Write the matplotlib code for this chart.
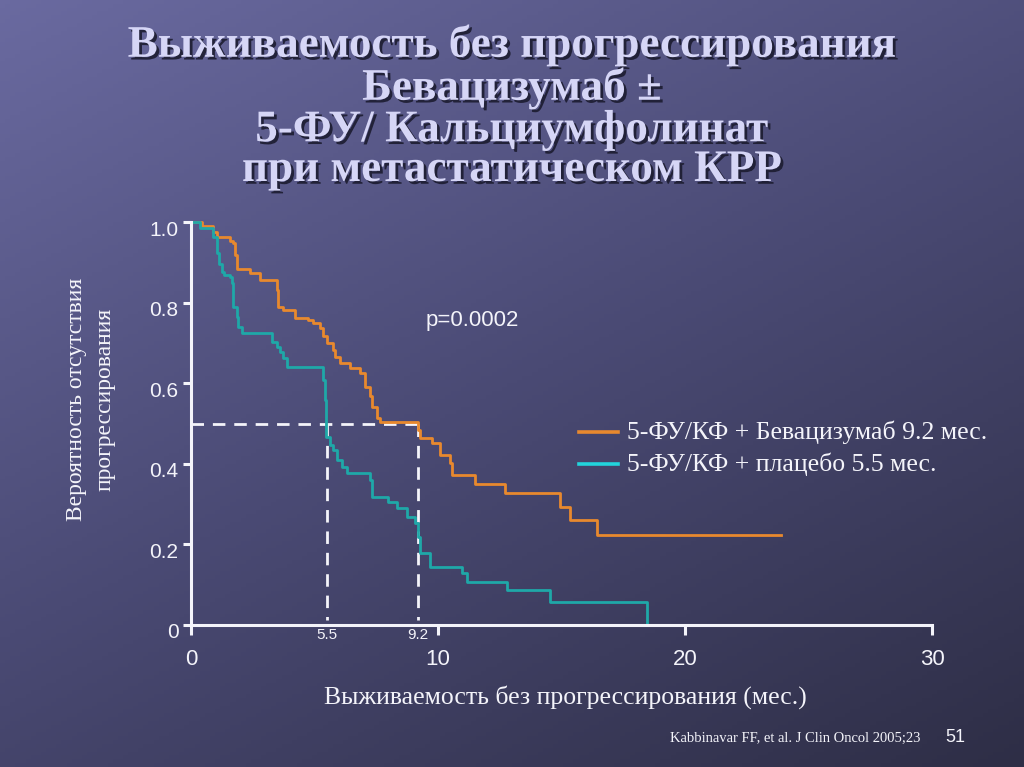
import numpy as np
import matplotlib
matplotlib.use("Agg")
import matplotlib.pyplot as plt
from matplotlib import patheffects as pe
from matplotlib import transforms as mtransforms
from matplotlib.colors import LinearSegmentedColormap

# ---------------- data ----------------
beva_t = [0, 0.43, 0.90, 1.04, 1.58, 1.71, 1.78, 1.85, 2.39, 2.79, 3.47, 3.53, 3.74,
          4.21, 4.75, 4.95, 5.22, 5.36, 5.49, 5.76, 5.83, 6.03, 6.44, 6.84, 7.04,
          7.25, 7.32, 7.52, 7.65, 9.20, 9.27, 9.74, 10.08, 10.49, 10.55, 11.50,
          12.71, 14.94, 15.34, 16.43, 23.9]
beva_s = [1.0, 0.990, 0.976, 0.964, 0.954, 0.947, 0.918, 0.883, 0.873, 0.856, 0.831,
          0.790, 0.782, 0.761, 0.757, 0.749, 0.736, 0.716, 0.699, 0.682, 0.666, 0.649,
          0.637, 0.625, 0.591, 0.567, 0.542, 0.513, 0.504, 0.484, 0.463, 0.451, 0.422,
          0.401, 0.372, 0.350, 0.327, 0.294, 0.261, 0.223, 0.223]

plac_t = [0, 0.36, 0.90, 1.04, 1.15, 1.24, 1.35, 1.58, 1.65, 1.71, 1.85, 1.91, 2.05,
          3.27, 3.47, 3.60, 3.74, 3.87, 5.36, 5.43, 5.47, 5.63, 5.76, 5.90, 6.10,
          6.30, 7.25, 7.32, 7.99, 8.33, 8.73, 9.07, 9.20, 9.27, 9.68, 10.96, 11.16,
          12.78, 14.53, 18.45, 18.45]
plac_s = [1.0, 0.984, 0.964, 0.922, 0.897, 0.877, 0.868, 0.864, 0.848, 0.790, 0.765,
          0.740, 0.724, 0.703, 0.690, 0.678, 0.662, 0.641, 0.608, 0.558, 0.467, 0.447,
          0.434, 0.409, 0.393, 0.376, 0.360, 0.318, 0.306, 0.290, 0.269, 0.253, 0.219,
          0.178, 0.145, 0.128, 0.107, 0.087, 0.058, 0.058, 0.0]

median_beva = 9.2
median_plac = 5.5
x_ticks = [0, 10, 20, 30]
y_ticks = [0, 0.2, 0.4, 0.6, 0.8, 1.0]
y_ticklabels = ["0", "0.2", "0.4", "0.6", "0.8", "1.0"]

title_lines = ["Выживаемость без прогрессирования",
               "Бевацизумаб ±",
               "5-ФУ/ Кальциумфолинат",
               "при метастатическом КРР"]
label_beva = "5-ФУ/КФ + Бевацизумаб 9.2 мес."
label_plac = "5-ФУ/КФ + плацебо 5.5 мес."
p_text = "p=0.0002"
xlabel = "Выживаемость без прогрессирования (мес.)"
ylabel = "Вероятность отсутствия\nпрогрессирования"
citation = "Kabbinavar FF, et al. J Clin Oncol 2005;23"
slide_no = "51"

# ---------------- style ----------------
ORANGE = "#e8892e"
TEAL = "#1fa8a8"
TEAL_LEG = "#22d4dc"
WHITE = "#f4f4fa"
SERIF = ["Liberation Serif", "DejaVu Serif"]
SANS = ["Liberation Sans", "DejaVu Sans"]

W, H = 1024, 767
fig = plt.figure(figsize=(W / 100, H / 100), dpi=100)

# background gradient
bg = fig.add_axes([0, 0, 1, 1], zorder=-10)
yy, xx = np.mgrid[0:1:200j, 0:1:200j]
grad = 0.6 * yy + 0.4 * xx
cmap = LinearSegmentedColormap.from_list("bg", ["#6a6aa0", "#4a4a74", "#2e2e46"])
bg.imshow(grad, cmap=cmap, aspect="auto", extent=[0, 1, 0, 1], origin="upper")
bg.set_axis_off()

# ---------------- axes ----------------
left = 191 / W
right = 932 / W
bottom = 1 - 625 / H
top = 1 - 222 / H
ax = fig.add_axes([left, bottom, right - left, top - bottom])
ax.set_facecolor("none")
ax.set_xlim(0, 30)
ax.set_ylim(0, 1)
for s in ["top", "right"]:
    ax.spines[s].set_visible(False)
for s in ["left", "bottom"]:
    ax.spines[s].set_color(WHITE)
    ax.spines[s].set_linewidth(2.2)
    ax.spines[s].set_zorder(5)

ax.set_xticks(x_ticks)
ax.set_yticks(y_ticks)
ax.set_yticklabels(y_ticklabels)
ax.tick_params(axis="both", colors=WHITE, width=2.2, direction="out")
ax.tick_params(axis="x", length=7.5, pad=10, labelsize=16)
ax.tick_params(axis="y", length=6, pad=3, labelsize=15)
ydown = mtransforms.ScaledTranslation(0, -0.06, fig.dpi_scale_trans)
for lab in ax.get_xticklabels() + ax.get_yticklabels():
    lab.set_family(SANS)
    lab.set_color(WHITE)
for lab in ax.get_yticklabels():
    lab.set_transform(lab.get_transform() + ydown)

# curves
ax.step(beva_t, beva_s, where="post", color=ORANGE, lw=2.0, zorder=3, clip_on=False)
ax.step(plac_t, plac_s, where="post", color=TEAL, lw=2.0, zorder=3, clip_on=False)

# median dashed lines
dash = dict(color=WHITE, lw=2.0, ls=(0, (4.5, 3.2)), zorder=2)
ax.plot([0, median_beva], [0.5, 0.5], **dash)
ax.plot([median_plac, median_plac], [0.5, 0.012], **dash)
ax.plot([median_beva, median_beva], [0.5, 0.012], **dash)
for m in (median_plac, median_beva):
    ax.text(m, -0.008, f"{m}", transform=ax.transData, ha="center", va="top",
            fontsize=11, color=WHITE, family=SANS)

# p value
ax.text(9.5, 0.755, p_text, fontsize=16, color=WHITE, family=SANS, va="center")

# legend
leg_x0, leg_x1, leg_tx = 15.7, 17.3, 17.65
ax.plot([leg_x0, leg_x1], [0.479, 0.479], color=ORANGE, lw=2.6)
ax.plot([leg_x0, leg_x1], [0.40, 0.40], color=TEAL_LEG, lw=2.6)
ax.text(leg_tx, 0.479, label_beva, fontsize=18.5, color=WHITE, family=SERIF, va="center")
ax.text(leg_tx, 0.40, label_plac, fontsize=18.5, color=WHITE, family=SERIF, va="center")

# axis labels
fig.text(565 / W, 1 - 697 / H, xlabel, fontsize=18.5, color=WHITE, family=SERIF,
         ha="center", va="center")
fig.text(91 / W, 1 - 399 / H, ylabel, fontsize=17, color=WHITE, family=SERIF,
         ha="center", va="center", rotation=90, linespacing=1.5)

# title
shadow = [pe.withSimplePatchShadow(offset=(2, -2), shadow_rgbFace="#1c1c30", alpha=0.9)]
ys = [45, 88, 130, 170]
for line, y in zip(title_lines, ys):
    fig.text(0.5, 1 - y / H, line, fontsize=32.5, fontweight="bold", color="#d6d6f6",
             family=SERIF, ha="center", va="center", path_effects=shadow)

# citation and slide number
fig.text(795 / W, 1 - 738 / H, citation, fontsize=10.5, color=WHITE, family=SERIF,
         ha="center", va="center")
fig.text(955 / W, 1 - 737 / H, slide_no, fontsize=13, color=WHITE, family=SANS,
         ha="center", va="center")

fig.savefig("out.png", dpi=100)
